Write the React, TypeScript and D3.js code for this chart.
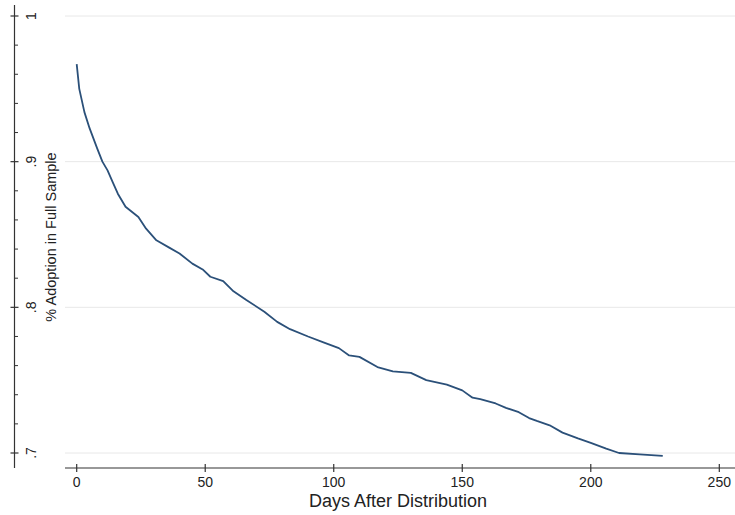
import React, { useEffect, useRef } from "react";
import * as d3 from "d3";

// days after distribution and share still adopting
const days = [
  0, 1, 3, 5, 8, 10, 12, 14, 16, 19, 24, 27, 31, 36, 40, 45, 49, 52, 57, 61,
  66, 73, 78, 83, 90, 96, 102, 106, 110, 117, 123, 130, 136, 144, 150, 154,
  157, 163, 167, 172, 176, 179, 184, 189, 195, 200, 206, 211, 219, 228,
];
const adoption = [
  0.967, 0.95, 0.934, 0.923, 0.909, 0.9, 0.894, 0.886, 0.878, 0.869, 0.862,
  0.854, 0.846, 0.841, 0.837, 0.83, 0.826, 0.821, 0.818, 0.811, 0.805, 0.797,
  0.79, 0.785, 0.78, 0.776, 0.772, 0.767, 0.766, 0.759, 0.756, 0.755, 0.75,
  0.747, 0.743, 0.738, 0.737, 0.734, 0.731, 0.728, 0.724, 0.722, 0.719, 0.714,
  0.71, 0.707, 0.703, 0.7, 0.699, 0.698,
];
const xTicks = [0, 50, 100, 150, 200, 250];
const yTicks = [0.7, 0.8, 0.9, 1];
const yTickLabels = [".7", ".8", ".9", "1"];

const FONT = "Helvetica, Arial, 'Liberation Sans', sans-serif";

export default function App() {
  const svgRef = useRef<SVGSVGElement>(null);

  useEffect(() => {
    if (!svgRef.current) return;
    const svg = d3.select(svgRef.current);
    svg.selectAll("*").remove();

    const width = 735;
    const height = 515;

    const x = d3.scaleLinear().domain([0, 250]).range([76.7, 719.3]);
    const y = d3.scaleLinear().domain([0.7, 1]).range([453, 16]);

    const axisX = 14.5;
    const axisY = 468;
    const plotLeft = 65;

    svg
      .append("rect")
      .attr("width", width)
      .attr("height", height)
      .attr("fill", "#fff");

    // gridlines
    svg
      .selectAll(".grid")
      .data(yTicks)
      .enter()
      .append("line")
      .attr("x1", plotLeft)
      .attr("x2", width)
      .attr("y1", (d) => y(d))
      .attr("y2", (d) => y(d))
      .attr("stroke", "#e8e8e8")
      .attr("stroke-width", 1);

    // y axis
    svg
      .append("line")
      .attr("x1", axisX)
      .attr("x2", axisX)
      .attr("y1", 5)
      .attr("y2", axisY)
      .attr("stroke", "#333")
      .attr("stroke-width", 1.2);

    const minor = d3
      .range(0.7, 1.0001, 0.02)
      .filter((v) => !yTicks.some((t) => Math.abs(t - v) < 1e-6));
    minor.unshift(0.68);

    svg
      .selectAll(".yminor")
      .data(minor.filter((v) => y(v) < axisY))
      .enter()
      .append("line")
      .attr("x1", axisX)
      .attr("x2", axisX + 3.5)
      .attr("y1", (d) => y(d))
      .attr("y2", (d) => y(d))
      .attr("stroke", "#333")
      .attr("stroke-width", 1);

    svg
      .selectAll(".ymajor")
      .data(yTicks)
      .enter()
      .append("line")
      .attr("x1", axisX - 4)
      .attr("x2", axisX + 4)
      .attr("y1", (d) => y(d))
      .attr("y2", (d) => y(d))
      .attr("stroke", "#333")
      .attr("stroke-width", 1.2);

    svg
      .selectAll(".ylabel")
      .data(yTicks)
      .enter()
      .append("text")
      .attr(
        "transform",
        (d) => `translate(${axisX + 16},${y(d)}) rotate(-90)`
      )
      .attr("text-anchor", "middle")
      .attr("dominant-baseline", "central")
      .style("font-family", FONT)
      .style("font-size", "14px")
      .style("fill", "#222")
      .text((d, i) => yTickLabels[i]);

    svg
      .append("text")
      .attr("transform", `translate(51,237) rotate(-90)`)
      .attr("text-anchor", "middle")
      .attr("dominant-baseline", "central")
      .style("font-family", FONT)
      .style("font-size", "14.5px")
      .style("fill", "#222")
      .text("% Adoption in Full Sample");

    // x axis
    svg
      .append("line")
      .attr("x1", plotLeft)
      .attr("x2", width)
      .attr("y1", axisY)
      .attr("y2", axisY)
      .attr("stroke", "#333")
      .attr("stroke-width", 1.2);

    svg
      .selectAll(".xtick")
      .data(xTicks)
      .enter()
      .append("line")
      .attr("x1", (d) => x(d))
      .attr("x2", (d) => x(d))
      .attr("y1", axisY - 4)
      .attr("y2", axisY + 4)
      .attr("stroke", "#333")
      .attr("stroke-width", 1.2);

    svg
      .selectAll(".xlabel")
      .data(xTicks)
      .enter()
      .append("text")
      .attr("x", (d) => x(d))
      .attr("y", 487)
      .attr("text-anchor", "middle")
      .style("font-family", FONT)
      .style("font-size", "14px")
      .style("fill", "#222")
      .text((d) => String(d));

    svg
      .append("text")
      .attr("x", 398)
      .attr("y", 507)
      .attr("text-anchor", "middle")
      .style("font-family", FONT)
      .style("font-size", "18px")
      .style("fill", "#222")
      .text("Days After Distribution");

    // curve
    const pts = days.map((d, i) => [d, adoption[i]] as [number, number]);
    const line = d3
      .line<[number, number]>()
      .x((d) => x(d[0]))
      .y((d) => y(d[1]));

    svg
      .append("path")
      .datum(pts)
      .attr("d", line)
      .attr("fill", "none")
      .attr("stroke", "#2b5079")
      .attr("stroke-width", 1.8)
      .attr("stroke-linejoin", "round");
  }, []);

  return (
    <svg
      ref={svgRef}
      width={735}
      height={515}
      style={{ position: "fixed", left: 0, top: 0 }}
    />
  );
}
